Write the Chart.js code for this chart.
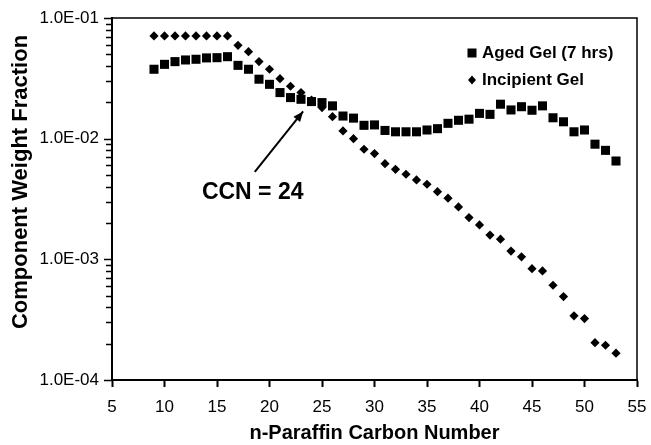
<!DOCTYPE html>
<html>
<head>
<meta charset="utf-8">
<script src="https://cdn.jsdelivr.net/npm/chart.js@4.4.1/dist/chart.umd.min.js"></script>
<style>
  html, body { margin: 0; padding: 0; background: #fff; }
  #gelChart { display: block; }
</style>
</head>
<body>
<canvas id="gelChart" width="651" height="445"></canvas>
<script>
// carbon numbers
const carbonNumbers = [9, 10, 11, 12, 13, 14, 15, 16, 17, 18, 19, 20, 21, 22, 23, 24, 25, 26, 27, 28, 29, 30,
  31, 32, 33, 34, 35, 36, 37, 38, 39, 40, 41, 42, 43, 44, 45, 46, 47, 48, 49, 50, 51, 52, 53];

const agedGel = [0.0376, 0.0413, 0.0435, 0.0449, 0.0455, 0.0467, 0.0469, 0.0478, 0.0405, 0.0376, 0.0311,
  0.0282, 0.0241, 0.0219, 0.0212, 0.0203, 0.0199, 0.0187, 0.0154, 0.0148, 0.0129, 0.0130, 0.0117, 0.0114,
  0.0114, 0.0114, 0.0118, 0.0121, 0.0134, 0.0142, 0.0145, 0.0162, 0.0159, 0.0193, 0.0173, 0.0184, 0.0172,
  0.0187, 0.0149, 0.0138, 0.0114, 0.0118, 0.0090, 0.0080, 0.00653];

const incipientGel = [0.0710, 0.0710, 0.0710, 0.0710, 0.0710, 0.0710, 0.0710, 0.0710, 0.0594, 0.0526,
  0.0435, 0.0376, 0.0314, 0.0272, 0.0241, 0.0209, 0.0181, 0.0152, 0.0116, 0.0100, 0.00817, 0.00752,
  0.00621, 0.00557, 0.00507, 0.00455, 0.00419, 0.00364, 0.00321, 0.00272, 0.00222, 0.00193, 0.00159,
  0.00147, 0.00117, 0.00105, 0.000837, 0.000802, 0.000610, 0.000491, 0.000340, 0.000323, 0.000204,
  0.000194, 0.000167];

const seriesLabels = ["Aged Gel (7 hrs)", "Incipient Gel"];
const xTicks = [5, 55, 5]; // min, max, step
const yTicks = [1e-4, 1e-1]; // min, max
const yTitle = "Component Weight Fraction";

// annotation: arrow from tail to tip, text at its own point (data coords)
const arrowTail = [18.6, 0.0053];
const arrowTip = [23.2, 0.0168];
const noteText = "CCN = 24";
const notePos = [18.4, 0.0036];

const FONT = "'Liberation Sans', Arial, sans-serif";

function fmtExp(v) {
  const e = Math.round(Math.log10(v));
  const sign = e < 0 ? "-" : "+";
  return "1.0E" + sign + String(Math.abs(e)).padStart(2, "0");
}

const framePlugin = {
  id: "frame",
  afterDraw(chart) {
    const { ctx, chartArea: a, scales } = chart;
    const x = scales.x, y = scales.y;
    ctx.save();
    ctx.strokeStyle = "#000";
    ctx.lineWidth = 1.5;
    ctx.beginPath();
    ctx.moveTo(a.left, a.top);
    ctx.lineTo(a.right, a.top);
    ctx.lineTo(a.right, a.bottom);
    ctx.stroke();

    // log tick marks on the y axis (1..9 per decade)
    ctx.lineWidth = 1.5;
    ctx.beginPath();
    const e0 = Math.round(Math.log10(yTicks[0]));
    const e1 = Math.round(Math.log10(yTicks[1]));
    for (let e = e0; e <= e1; e++) {
      for (let m = 1; m < 10; m++) {
        if (e === e1 && m > 1) break;
        const py = Math.round(y.getPixelForValue(m * Math.pow(10, e))) + 0.5;
        ctx.moveTo(a.left - (m === 1 ? 8 : 6), py);
        ctx.lineTo(a.left, py);
      }
    }
    ctx.stroke();

    // y axis title, sits a bit above the middle like the original
    ctx.fillStyle = "#000";
    ctx.save();
    ctx.translate(21, (a.top + a.bottom) / 2 - 17);
    ctx.rotate(-Math.PI / 2);
    ctx.font = "bold 22px " + FONT;
    ctx.textAlign = "center";
    ctx.textBaseline = "middle";
    ctx.fillText(yTitle, 0, 0);
    ctx.restore();

    // legend
    ctx.font = "bold 17px " + FONT;
    ctx.textBaseline = "middle";
    const lx = a.right - 165;
    const ly = a.top + 35;
    ctx.fillRect(lx - 4.5, ly - 4.5, 9, 9);
    ctx.fillText(seriesLabels[0], lx + 10, ly);
    const dy = ly + 27;
    ctx.beginPath();
    ctx.moveTo(lx, dy - 4.5);
    ctx.lineTo(lx + 4, dy);
    ctx.lineTo(lx, dy + 4.5);
    ctx.lineTo(lx - 4, dy);
    ctx.closePath();
    ctx.fill();
    ctx.fillText(seriesLabels[1], lx + 10, dy);

    // annotation arrow
    const x0 = x.getPixelForValue(arrowTail[0]), y0 = y.getPixelForValue(arrowTail[1]);
    const x1 = x.getPixelForValue(arrowTip[0]), y1 = y.getPixelForValue(arrowTip[1]);
    ctx.lineWidth = 2;
    ctx.beginPath();
    ctx.moveTo(x0, y0);
    ctx.lineTo(x1, y1);
    ctx.stroke();
    const ang = Math.atan2(y1 - y0, x1 - x0);
    const hl = 11, hw = 0.4;
    ctx.beginPath();
    ctx.moveTo(x1, y1);
    ctx.lineTo(x1 - hl * Math.cos(ang - hw), y1 - hl * Math.sin(ang - hw));
    ctx.lineTo(x1 - hl * Math.cos(ang + hw), y1 - hl * Math.sin(ang + hw));
    ctx.closePath();
    ctx.fill();

    ctx.font = "bold 23px " + FONT;
    ctx.textAlign = "center";
    ctx.fillText(noteText, x.getPixelForValue(notePos[0]), y.getPixelForValue(notePos[1]));
    ctx.restore();
  }
};

const ctx = document.getElementById("gelChart").getContext("2d");
const gelChart = new Chart(ctx, {
  type: "scatter",
  data: {
    datasets: [
      {
        label: seriesLabels[0],
        data: carbonNumbers.map((n, i) => ({ x: n, y: agedGel[i] })),
        pointStyle: "rect",
        pointRadius: 6.4,
        backgroundColor: "#000",
        borderColor: "#000",
        borderWidth: 0,
      },
      {
        label: seriesLabels[1],
        data: carbonNumbers.map((n, i) => ({ x: n, y: incipientGel[i] })),
        pointStyle: "rectRot",
        pointRadius: 4.6,
        backgroundColor: "#000",
        borderColor: "#000",
        borderWidth: 0,
      },
    ],
  },
  options: {
    responsive: false,
    animation: false,
    devicePixelRatio: 1,
    layout: { padding: { left: 0, top: 18, right: 14, bottom: 0 } },
    plugins: {
      legend: { display: false },
      tooltip: { enabled: false },
    },
    scales: {
      x: {
        type: "linear",
        min: xTicks[0],
        max: xTicks[1],
        afterFit: (s) => {
          s.height = 65;
          s.paddingLeft = 0;
          s.paddingRight = 0;
        },
        ticks: {
          stepSize: xTicks[2],
          color: "#000",
          font: { family: FONT, size: 17 },
          padding: 10,
          maxRotation: 0,
        },
        grid: { drawOnChartArea: false, color: "#000", tickLength: 7, tickWidth: 2 },
        border: { color: "#000", width: 2 },
        title: {
          display: true,
          text: "n-Paraffin Carbon Number",
          color: "#000",
          font: { family: FONT, size: 20, weight: "bold" },
          padding: { top: 0, bottom: 0 },
        },
      },
      y: {
        type: "logarithmic",
        min: yTicks[0],
        max: yTicks[1],
        afterFit: (s) => {
          s.width = 112;
          s.paddingTop = 0;
          s.paddingBottom = 0;
        },
        ticks: {
          autoSkip: false,
          color: "#000",
          font: { family: FONT, size: 17 },
          padding: 13,
          callback: function (v) {
            const l = Math.log10(v);
            return Math.abs(l - Math.round(l)) < 1e-6 ? fmtExp(v) : "";
          },
        },
        grid: { drawOnChartArea: false, drawTicks: false, color: "#000" },
        border: { color: "#000", width: 2 },
        title: { display: false },
      },
    },
  },
  plugins: [framePlugin],
});
</script>
</body>
</html>
